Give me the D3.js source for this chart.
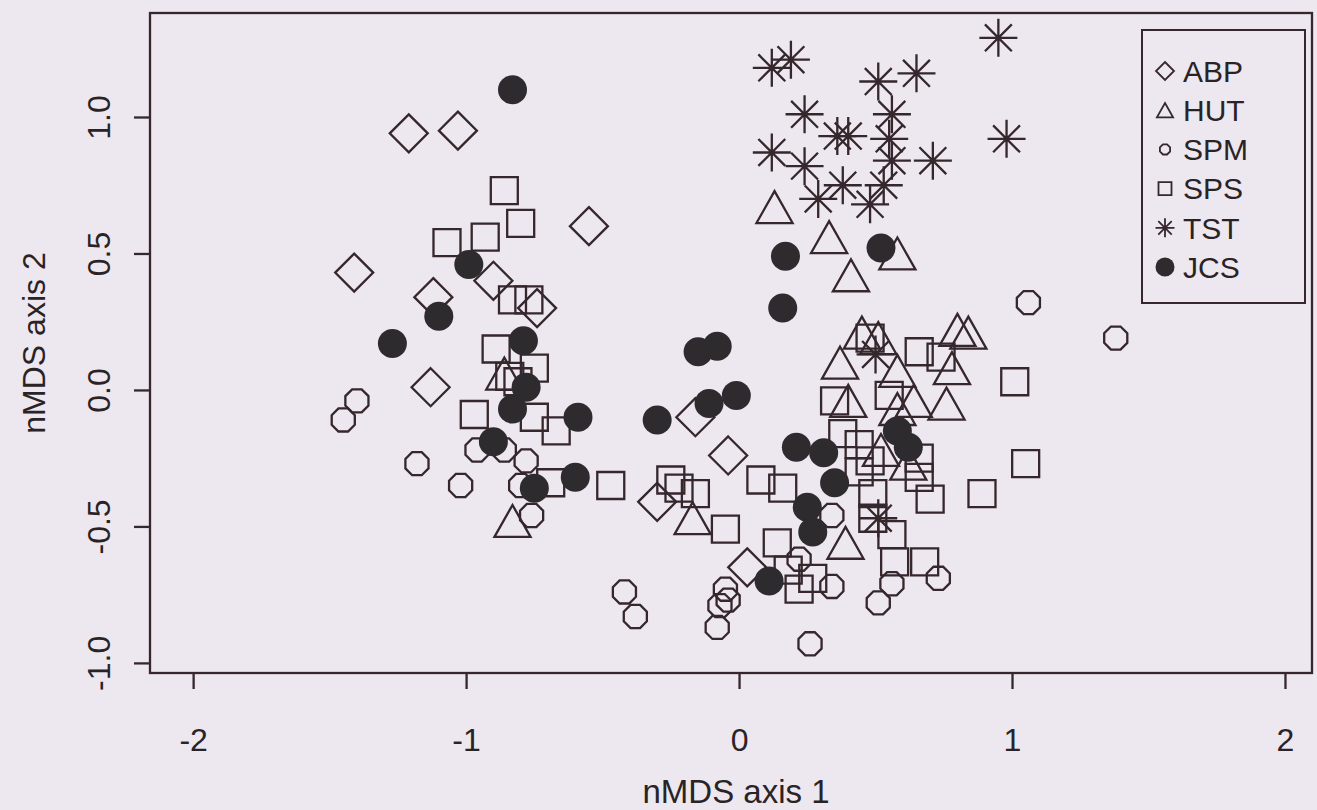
<!DOCTYPE html>
<html><head><meta charset="utf-8">
<script src="https://cdn.jsdelivr.net/npm/d3@7"></script>
<style>body{margin:0;background:#ede7ef;} svg{display:block;}</style>
</head><body><svg id="c" width="1317" height="810"></svg>
<script>
// ---- data (nMDS scores) ----
const groups = ["ABP","HUT","SPM","SPS","TST","JCS"];
const ABP = [[-1.21,0.94],[-1.03,0.95],[-0.55,0.60],[-1.41,0.43],[-1.12,0.34],[-0.90,0.40],
  [-0.74,0.30],[-1.13,0.01],[-0.16,-0.10],[-0.04,-0.24],[-0.30,-0.41],[0.03,-0.65]];
const HUT = [[0.13,0.67],[0.33,0.56],[0.41,0.42],[0.58,0.50],[0.45,0.21],[0.51,0.19],[0.37,0.10],
  [0.80,0.22],[0.84,0.21],[0.78,0.08],[0.58,0.07],[0.64,-0.04],[0.76,-0.05],[0.40,-0.04],
  [0.58,-0.07],[0.52,-0.22],[0.62,-0.27],[-0.17,-0.47],[0.39,-0.56],[-0.83,-0.48],[-0.86,0.06]];
const SPM = [[-1.45,-0.11],[-1.40,-0.04],[-1.18,-0.27],[-1.02,-0.35],[-0.96,-0.22],[-0.86,-0.22],
  [-0.78,-0.26],[-0.80,-0.35],[-0.76,-0.46],[-0.42,-0.74],[-0.38,-0.83],[-0.05,-0.73],[-0.04,-0.77],
  [-0.07,-0.79],[-0.08,-0.87],[0.26,-0.93],[0.22,-0.62],[0.34,-0.72],[0.34,-0.46],[0.51,-0.78],
  [0.56,-0.71],[0.73,-0.69],[1.06,0.32],[1.38,0.19]];
const SPS = [[-0.86,0.73],[-0.80,0.61],[-0.93,0.56],[-1.07,0.54],[-0.83,0.33],[-0.77,0.33],
  [-0.89,0.15],[-0.75,0.08],[-0.84,0.05],[-0.81,0.03],[-0.75,-0.10],[-0.67,-0.15],[-0.97,-0.09],
  [-0.69,-0.34],[-0.47,-0.35],[-0.25,-0.33],[-0.22,-0.36],[-0.16,-0.38],[-0.05,-0.51],[0.08,-0.33],
  [0.16,-0.36],[0.14,-0.56],[0.18,-0.66],[0.22,-0.73],[0.27,-0.69],[0.48,0.19],[0.66,0.14],
  [0.74,0.12],[0.55,-0.02],[0.35,-0.04],[0.38,-0.16],[0.44,-0.20],[0.48,-0.26],[0.44,-0.30],
  [0.66,-0.25],[0.66,-0.32],[1.01,0.03],[1.05,-0.27],[0.89,-0.38],[0.70,-0.40],[0.49,-0.38],
  [0.49,-0.47],[0.56,-0.53],[0.57,-0.63],[0.68,-0.63]];
const TST = [[0.95,1.29],[0.12,1.18],[0.19,1.21],[0.51,1.13],[0.65,1.16],[0.24,1.01],[0.56,1.01],
  [0.36,0.93],[0.40,0.93],[0.55,0.92],[0.98,0.92],[0.12,0.87],[0.24,0.82],[0.56,0.84],[0.71,0.84],
  [0.38,0.75],[0.29,0.70],[0.53,0.75],[0.48,0.68],[0.50,0.13],[0.51,-0.47]];
const JCS = [[-0.83,1.10],[-0.99,0.46],[-1.10,0.27],[-1.27,0.17],[-0.79,0.18],[-0.78,0.01],
  [-0.83,-0.07],[-0.90,-0.19],[-0.59,-0.10],[-0.75,-0.36],[-0.60,-0.32],[-0.15,0.14],[-0.08,0.16],
  [-0.11,-0.05],[-0.01,-0.02],[-0.30,-0.11],[0.17,0.49],[0.52,0.52],[0.16,0.30],[0.21,-0.21],
  [0.31,-0.23],[0.35,-0.34],[0.25,-0.43],[0.27,-0.52],[0.11,-0.70],[0.58,-0.15],[0.62,-0.21]];
const xTicks = [-2,-1,0,1,2];
const yTicks = [-1.0,-0.5,0.0,0.5,1.0];
const xTitle = "nMDS axis 1";
const yTitle = "nMDS axis 2";
const seriesData = {ABP, HUT, SPM, SPS, TST, JCS};

// ---- drawing ----
const W = 1317, H = 810;
const ink = "#35272c", txt = "#2a2326", bg = "#ede7ef", font = "'Liberation Sans', Arial, sans-serif";
const svg = d3.select("#c");
svg.append("rect").attr("width", W).attr("height", H).attr("fill", bg);

const plot = {l:150, r:1312, t:13, b:673};
const x = d3.scaleLinear().domain([-2.158, 2.099]).range([plot.l, plot.r]);
const y = d3.scaleLinear().domain([-1.037, 1.381]).range([plot.b, plot.t]);

function octagon(r){
  const pts = d3.range(8).map(k => {const a = (22.5 + 45*k) * Math.PI/180; return [r*Math.cos(a), r*Math.sin(a)];});
  return "M" + pts.map(p => p[0].toFixed(2)+","+p[1].toFixed(2)).join("L") + "Z";
}
function shape(type, s){
  switch(type){
    case "ABP": return `M0,${-s}L${s},0L0,${s}L${-s},0Z`;
    case "HUT": { const w = s*0.95, h = s*0.84; return `M0,${-h}L${w},${h}L${-w},${h}Z`; }
    case "SPM": return octagon(s);
    case "SPS": return `M${-s},${-s}H${s}V${s}H${-s}Z`;
    case "TST": { const d = s/Math.SQRT2; return `M${-s},0H${s}M0,${-s}V${s}M${-d},${-d}L${d},${d}M${-d},${d}L${d},${-d}`; }
  }
}
const plotSize = {ABP:19, HUT:19, SPM:12.5, SPS:13.5, TST:19, JCS:14.5};
const legSize  = {ABP:9, HUT:8.5, SPM:5.5, SPS:6.5, TST:9.5, JCS:9.5};

function drawMark(g, type, s, sw){
  if (type === "JCS") {
    g.append("circle").attr("r", s).attr("fill", "#2e2b2e");
  } else {
    g.append("path").attr("d", shape(type, s)).attr("fill", "none")
      .attr("stroke", ink).attr("stroke-width", sw).attr("stroke-linejoin", "miter");
  }
}

const pts = svg.append("g");
groups.forEach(gname => {
  seriesData[gname].forEach(d => {
    const g = pts.append("g").attr("transform", `translate(${x(d[0])},${y(d[1])})`);
    drawMark(g, gname, plotSize[gname], 2.3);
  });
});

// box
svg.append("rect").attr("x", plot.l).attr("y", plot.t).attr("width", plot.r - plot.l)
  .attr("height", plot.b - plot.t).attr("fill", "none").attr("stroke", ink).attr("stroke-width", 2.3);

// x axis
const xa = svg.append("g").attr("transform", `translate(0,${plot.b})`)
  .call(d3.axisBottom(x).tickValues(xTicks).tickSize(16).tickPadding(39).tickFormat(d => String(d)));
xa.select(".domain").remove();
xa.selectAll("line").attr("stroke", ink).attr("stroke-width", 2.3);
xa.selectAll("text").attr("fill", txt).style("font-family", font).style("font-size", "32px");

// y axis
const ya = svg.append("g").attr("transform", `translate(${plot.l},0)`)
  .call(d3.axisLeft(y).tickValues(yTicks).tickSize(16).tickFormat(d => d.toFixed(1)));
ya.select(".domain").remove();
ya.selectAll("line").attr("stroke", ink).attr("stroke-width", 2.3);
ya.selectAll("text").attr("x", null).attr("dy", null).attr("y", 0)
  .attr("text-anchor", "middle").attr("transform", `translate(${110 - plot.l},0) rotate(-90)`)
  .attr("fill", txt).style("font-family", font).style("font-size", "32px");

// titles
svg.append("text").attr("x", 736).attr("y", 803).attr("text-anchor", "middle")
  .attr("fill", txt).style("font-family", font).style("font-size", "33px").text(xTitle);
svg.append("text").attr("transform", `translate(45,${(plot.t + plot.b)/2}) rotate(-90)`)
  .attr("text-anchor", "middle").attr("fill", txt).style("font-family", font).style("font-size", "32px").text(yTitle);

// legend
const leg = svg.append("g");
leg.append("rect").attr("x", 1142).attr("y", 30).attr("width", 163).attr("height", 273)
  .attr("fill", bg).attr("stroke", ink).attr("stroke-width", 2);
groups.forEach((gname, i) => {
  const cy = 71 + 39.2 * i;
  const g = leg.append("g").attr("transform", `translate(1165,${cy})`);
  drawMark(g, gname, legSize[gname], 1.8);
  leg.append("text").attr("x", 1183).attr("y", cy).attr("dy", "0.36em").attr("fill", txt)
    .style("font-family", font).style("font-size", "30px").text(gname);
});
</script></body></html>
